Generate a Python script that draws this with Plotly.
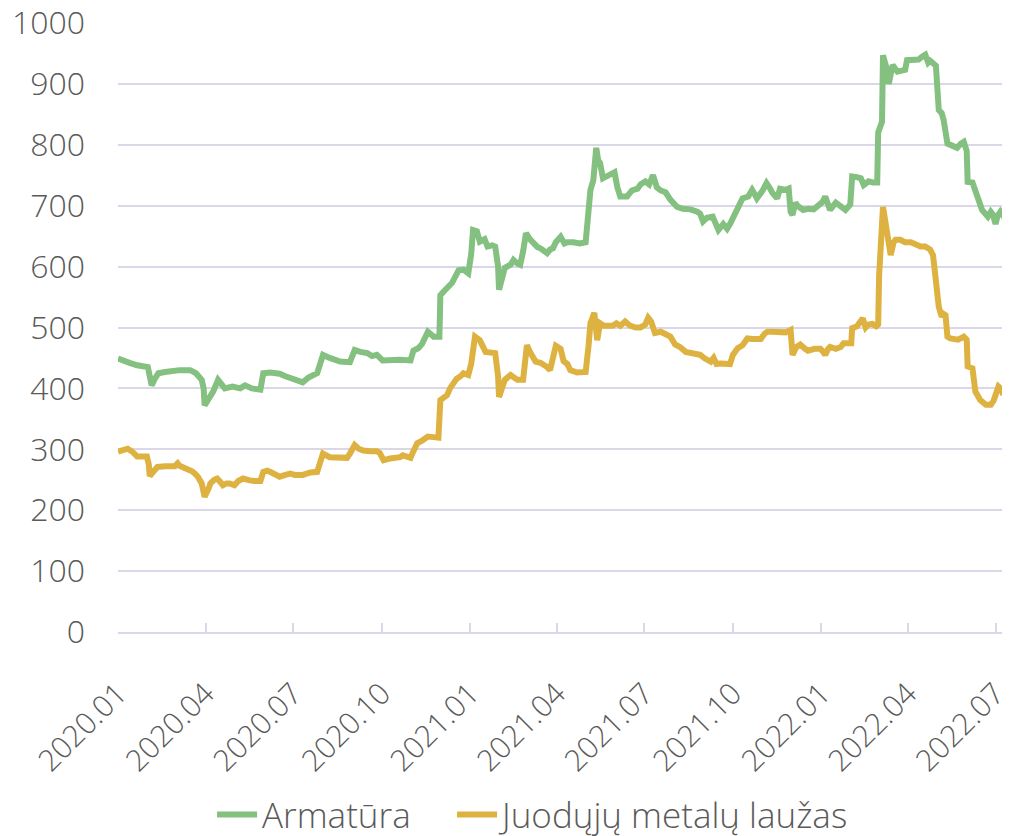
import pandas as pd
import plotly.graph_objects as go

START = "2020-01-01"

# Armatūra: days since START, value
arm_day = [0, 7, 12, 20, 26, 31, 33, 35, 38, 42, 49, 56, 64, 75, 81, 87, 89, 90, 94, 99,
           104, 108, 111, 119, 127, 132, 139, 148, 150, 151, 158, 168, 174, 179, 184, 192, 198, 202, 207, 210,
           213, 220, 231, 241, 244, 246, 252, 259, 264, 269, 275, 283, 293, 304, 307, 312, 316, 322, 328, 334,
           335, 339, 343, 347, 354, 359, 364, 367, 369, 373, 376, 381, 384, 389, 392, 395, 396, 399, 402, 408,
           411, 415, 418, 421, 424, 428, 432, 436, 439, 443, 446, 449, 452, 455, 460, 464, 467, 473, 480, 486,
           489, 491, 494, 497, 499, 501, 504, 508, 512, 516, 519, 522, 529, 534, 540, 543, 548, 552, 556, 560,
           564, 569, 574, 581, 587, 595, 602, 605, 608, 612, 618, 621, 624, 629, 633, 636, 642, 646, 649, 655,
           659, 662, 664, 670, 674, 677, 680, 685, 688, 694, 697, 699, 701, 704, 706, 712, 717, 723, 728, 732,
           735, 738, 740, 746, 751, 756, 761, 763, 768, 772, 775, 780, 785, 789, 790, 794, 795, 798, 801, 805,
           810, 815, 818, 820, 826, 832, 836, 839, 842, 844, 850, 852, 853, 856, 858, 862, 865, 868, 872, 876,
           879, 882, 883, 888, 891, 893, 896, 898, 904, 907, 909, 911, 912, 914, 917, 920, 923, 927]
arm_val = [449, 444, 442, 438, 436, 435, 420, 405, 415, 425, 427, 429, 430, 430, 425, 414, 400, 372, 382, 395,
           414, 405, 400, 403, 400, 405, 400, 398, 410, 425, 426, 424, 420, 417, 414, 410, 418, 422, 425, 440,
           455, 450, 444, 443, 455, 463, 460, 458, 453, 455, 446, 447, 447, 446, 462, 466, 473, 493, 485, 485,
           553, 560, 565, 573, 594, 595, 589, 620, 660, 658, 641, 645, 633, 635, 633, 600, 562, 585, 598, 603,
           611, 605, 603, 625, 655, 645, 638, 632, 630, 625, 622, 628, 630, 640, 649, 638, 640, 640, 638, 640,
           680, 726, 742, 795, 775, 770, 745, 748, 752, 755, 730, 715, 715, 725, 728, 735, 740, 735, 750, 730,
           725, 722, 710, 698, 695, 694, 690, 687, 674, 680, 682, 672, 660, 670, 662, 670, 690, 700, 712, 715,
           726, 718, 712, 725, 737, 730, 721, 712, 728, 726, 728, 690, 685, 705, 700, 693, 695, 694, 700, 706,
           715, 705, 693, 705, 698, 693, 702, 748, 747, 745, 734, 740, 738, 738, 820, 838, 947, 930, 900, 931,
           920, 922, 923, 939, 940, 940, 945, 948, 935, 938, 930, 880, 857, 852, 841, 802, 800, 800, 795, 802,
           805, 790, 739, 738, 725, 715, 700, 693, 682, 690, 686, 672, 670, 683, 690, 683, 686, 684]

# Juodųjų metalų laužas: days since START, value
scrap_day = [0, 5, 10, 15, 20, 26, 30, 32, 33, 36, 41, 49, 56, 59, 62, 64, 68, 73, 77, 80,
             83, 87, 89, 90, 94, 96, 100, 103, 106, 109, 113, 116, 121, 125, 130, 134, 137, 142, 148, 151,
             155, 158, 163, 168, 174, 179, 184, 189, 192, 200, 207, 210, 213, 220, 226, 231, 238, 241, 244, 246,
             250, 255, 262, 269, 272, 276, 283, 288, 293, 296, 301, 304, 307, 311, 316, 322, 328, 333, 335, 338,
             342, 345, 348, 352, 356, 359, 364, 367, 371, 373, 376, 382, 387, 392, 395, 396, 399, 402, 408, 412,
             415, 421, 423, 425, 428, 434, 439, 442, 446, 449, 452, 455, 460, 463, 467, 470, 477, 486, 489, 491,
             495, 498, 501, 505, 508, 514, 518, 522, 527, 532, 538, 543, 548, 551, 554, 558, 564, 569, 574, 579,
             584, 590, 595, 600, 605, 610, 616, 619, 622, 626, 631, 636, 639, 644, 649, 654, 659, 668, 672, 675,
             680, 688, 694, 699, 700, 701, 705, 709, 714, 717, 724, 730, 733, 735, 738, 740, 746, 751, 754, 759,
             762, 763, 768, 774, 777, 780, 784, 788, 790, 791, 792, 794, 795, 798, 800, 802, 803, 806, 808, 813,
             818, 824, 829, 834, 839, 844, 847, 851, 853, 856, 858, 860, 862, 865, 868, 873, 879, 882, 883, 888,
             891, 894, 896, 902, 905, 907, 910, 913, 915, 917, 920, 923, 927]
scrap_val = [296, 298, 301, 296, 288, 288, 288, 275, 256, 262, 271, 272, 272, 272, 277, 273, 270, 267, 264, 260,
             255, 244, 232, 222, 235, 244, 250, 252, 247, 241, 244, 244, 241, 248, 252, 249, 249, 248, 248, 263,
             265, 263, 258, 255, 258, 260, 258, 258, 258, 262, 263, 278, 293, 287, 286, 287, 286, 293, 305, 307,
             301, 298, 297, 297, 294, 282, 285, 285, 287, 290, 287, 286, 297, 310, 314, 321, 320, 319, 381, 385,
             389, 400, 407, 416, 420, 425, 422, 440, 485, 483, 479, 460, 460, 458, 420, 386, 400, 414, 422, 418,
             414, 414, 450, 471, 460, 444, 442, 440, 435, 430, 455, 470, 465, 445, 440, 430, 426, 427, 470, 507,
             524, 479, 507, 503, 503, 503, 507, 503, 510, 503, 500, 500, 505, 516, 510, 491, 493, 490, 485, 472,
             468, 460, 458, 455, 455, 449, 444, 450, 440, 441, 440, 440, 455, 466, 471, 482, 481, 481, 490, 493,
             493, 493, 492, 496, 460, 455, 468, 472, 465, 462, 465, 465, 460, 455, 465, 468, 465, 468, 474, 474,
             474, 499, 502, 515, 500, 505, 506, 502, 505, 586, 644, 670, 698, 670, 644, 625, 619, 640, 644, 644,
             640, 640, 636, 633, 633, 628, 619, 570, 534, 518, 522, 520, 485, 482, 482, 480, 485, 480, 436, 433,
             395, 388, 381, 373, 374, 373, 380, 392, 403, 400, 390, 398, 395]

tick_dates = ["2020-01-01", "2020-04-01", "2020-07-01", "2020-10-01", "2021-01-01", "2021-04-01",
              "2021-07-01", "2021-10-01", "2022-01-01", "2022-04-01", "2022-07-01"]
tick_labels = ["2020.01", "2020.04", "2020.07", "2020.10", "2021.01", "2021.04",
               "2021.07", "2021.10", "2022.01", "2022.04", "2022.07"]

start = pd.Timestamp(START)
arm_x = start + pd.to_timedelta(arm_day, unit="D")
scrap_x = start + pd.to_timedelta(scrap_day, unit="D")

GREEN = "#84C07F"
GOLD = "#DEB241"
GRID = "#DAD8E8"
TXT = "#5A5A5A"
FONT = dict(family="'Open Sans', Inter, sans-serif", size=32, color=TXT, weight=300)
XFONT = dict(FONT, size=30)
LEG_FONT = dict(FONT, size=35)

fig = go.Figure()
fig.add_trace(go.Scatter(x=arm_x, y=arm_val, mode="lines", name="Armatūra\u00a0\u00a0\u00a0\u00a0",
                         line=dict(color=GREEN, width=6)))
fig.add_trace(go.Scatter(x=scrap_x, y=scrap_val, mode="lines", name="Juodųjų metalų laužas",
                         line=dict(color=GOLD, width=6)))

# page body adds an 8px offset; figure sized so the plot lands where the reference has it
fig.update_layout(
    width=1002, height=828,
    margin=dict(l=110, r=0, t=15, b=204, autoexpand=False),
    paper_bgcolor="white", plot_bgcolor="white",
    font=FONT,
    showlegend=True,
    legend=dict(orientation="h", x=0.467, xanchor="center", y=-0.30, yanchor="middle",
                font=LEG_FONT, itemwidth=40, tracegroupgap=0),
)
fig.update_xaxes(
    type="date", range=["2020-01-01", "2022-07-16"],
    tickvals=tick_dates, ticktext=tick_labels, tickangle=-45,
    showgrid=False, showline=True, linecolor=GRID, linewidth=2,
    ticks="inside", ticklen=9, tickcolor=GRID, tickwidth=2,
    tickfont=XFONT, zeroline=False, automargin=False, ticklabeloverflow="allow",
    ticklabelstandoff=30,
)
fig.update_yaxes(
    range=[0, 1000], tickvals=list(range(0, 1001, 100)),
    showgrid=True, gridcolor=GRID, gridwidth=2,
    showline=False, zeroline=False, ticks="", ticklabelstandoff=32,
    tickfont=FONT, automargin=False, ticklabeloverflow="allow",
)

fig.write_html("out.html")
